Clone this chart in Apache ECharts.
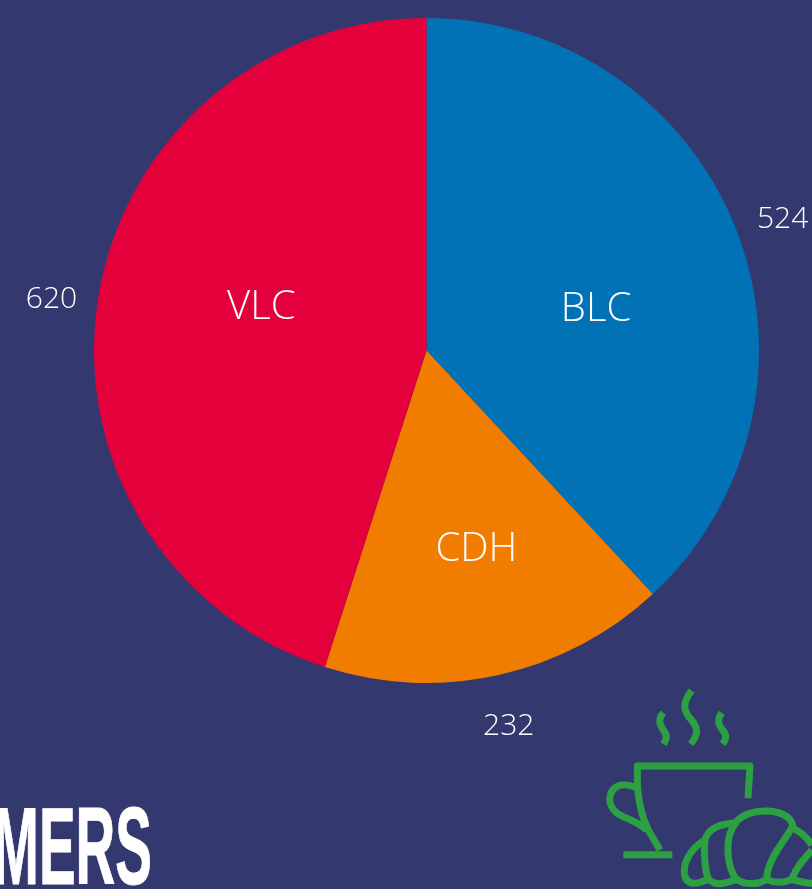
<!DOCTYPE html>
<html>
<head>
<meta charset="utf-8">
<title>Pie</title>
<script src="https://cdn.jsdelivr.net/npm/echarts@6/dist/echarts.min.js"></script>
<style>
html,body{margin:0;padding:0;background:#33396e;}
#main{width:812px;height:889px;}
</style>
</head>
<body>
<div id="main"></div>
<script>
var categories = ['BLC', 'CDH', 'VLC'];
var values = [524, 232, 620];
var sliceColors = ['#0072b5', '#f07d00', '#e4003a'];

// label nudges from where echarts puts them
var innerOffsets = [[12, 21], [13, 34], [2, -17]];
var outerOffsets = [[-28, -4], [-54, 37], [29, 3]];

var iconColor = '#2ba143';
var iconPaths = [
	'M504,385 L510,288 L172,288 L172,340 C175,400 190,450 205,480 L240,540',
	'M130,554 L277,554',
	'M172,355 C140,340 110,340 95,365 C80,395 95,425 130,440 C155,450 180,460 200,480',
	'M335,62 C305,100 310,125 335,150 C355,175 355,195 332,222',
	'M250,128 C232,150 240,165 250,180 C262,195 262,205 250,222',
	'M425,128 C410,150 415,165 428,180 C440,195 440,205 428,222',
	'M470,455 C500,412 625,410 638,465 C635,490 560,560 560,630',
	'M470,455 C430,500 440,590 470,630',
	'M345,640 C360,640 370,632 385,628 C410,650 440,640 470,628 C495,645 535,645 558,628 C585,640 610,640 635,628 C660,635 680,640 700,640',
	'M470,458 C430,460 385,470 375,510 C370,550 375,600 385,628',
	'M375,510 C340,530 310,570 313,610 C315,630 325,640 345,640',
	'M640,475 C660,485 680,500 696,525',
	'M696,540 C670,570 650,590 635,628'
];

// graphic component has no plain path type, so register each stroke as a shape
iconPaths.forEach(function (d, i) {
	echarts.graphic.registerShape('icon' + i, echarts.graphic.extendPath(d, {}));
});

var pieData = categories.map(function (name, i) {
	return { name: name, value: values[i], itemStyle: { color: sliceColors[i] } };
});
var labelData = categories.map(function (name, i) {
	return { name: name, value: values[i] };
});

var myChart = echarts.init(document.getElementById('main'));
var option = {
	backgroundColor: '#33396e',
	animation: false,
	series: [
		{
			type: 'pie',
			center: [426.5, 350.5],
			radius: [0, 332.5],
			startAngle: 90,
			clockwise: true,
			avoidLabelOverlap: false,
			data: pieData,
			label: {
				position: 'outside',
				formatter: '{c}',
				color: '#fff',
				fontFamily: 'Open Sans',
				fontWeight: 300,
				fontSize: 30,
				overflow: 'none'
			},
			labelLine: { show: false },
			labelLayout: function (p) {
				return { dx: outerOffsets[p.dataIndex][0], dy: outerOffsets[p.dataIndex][1] };
			}
		},
		{
			type: 'pie',
			center: [426.5, 350.5],
			radius: [0, 332.5],
			startAngle: 90,
			clockwise: true,
			silent: true,
			avoidLabelOverlap: false,
			data: labelData,
			itemStyle: { color: 'transparent' },
			label: {
				position: 'inside',
				formatter: '{b}',
				color: '#fff',
				fontFamily: 'Open Sans',
				fontWeight: 300,
				fontSize: 40,
				overflow: 'none'
			},
			labelLine: { show: false },
			labelLayout: function (p) {
				return { dx: innerOffsets[p.dataIndex][0], dy: innerOffsets[p.dataIndex][1] };
			}
		}
	],
	graphic: [
		{
			type: 'group',
			x: 580,
			y: 670,
			scaleX: 1 / 3,
			scaleY: 1 / 3,
			children: iconPaths.map(function (d, i) {
				return {
					type: 'icon' + i,
					style: { fill: 'none', stroke: iconColor, lineWidth: 21, lineJoin: 'round' }
				};
			})
		},
		{
			type: 'text',
			x: 152,
			y: 909,
			scaleX: 0.5,
			style: {
				text: 'MERS',
				align: 'right',
				verticalAlign: 'bottom',
				fill: '#fff',
				stroke: '#fff',
				lineWidth: 1,
				font: 'bold 110px "Liberation Sans"'
			}
		}
	]
};
myChart.setOption(option);
</script>
</body>
</html>
